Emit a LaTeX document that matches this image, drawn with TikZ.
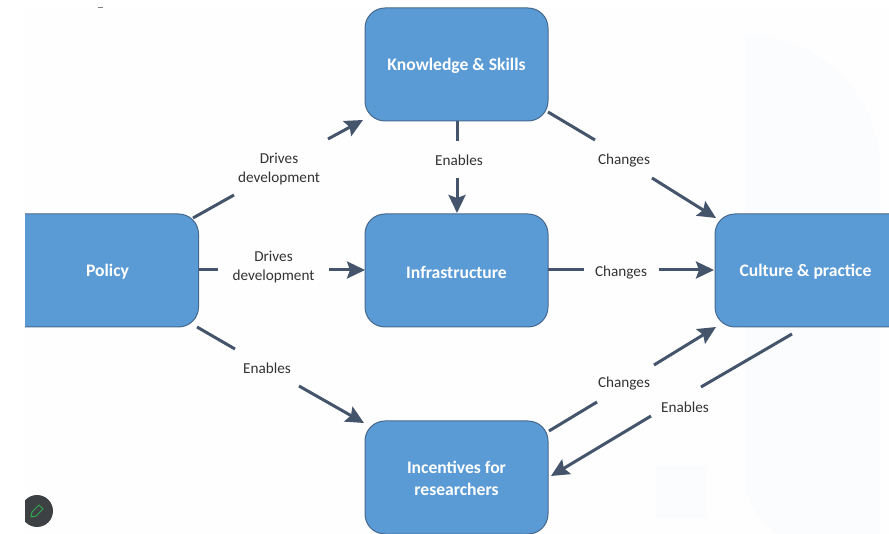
\documentclass[tikz,border=0pt]{standalone}
\usepackage{fontspec}
\setmainfont{Carlito}
\usetikzlibrary{arrows.meta}
\definecolor{boxfill}{HTML}{5B9BD5}
\definecolor{boxline}{HTML}{45688C}
\definecolor{arrowc}{HTML}{44546A}
\definecolor{labelc}{HTML}{333333}
\definecolor{panel}{HTML}{FEFEFF}
\definecolor{ghost}{HTML}{FBFCFE}
\definecolor{badge}{HTML}{3E4144}
\definecolor{pencil}{HTML}{2FA84F}
\tikzset{
  x=1pt,y=-1pt,
  bx/.style={draw=boxline,line width=1pt,fill=boxfill,rounded corners=20pt,minimum width=183pt,minimum height=113pt,inner sep=0pt,
    text=white,align=center,font=\fontsize{17.6}{22}\selectfont\bfseries},
  btxt/.style={text=white,inner sep=0pt,font=\fontsize{17.6}{22}\selectfont\bfseries},
  lbl/.style={text=labelc,align=center,inner sep=0pt,font=\fontsize{15.2}{19}\selectfont},
  seg/.style={draw=arrowc,line width=3pt},
  arr/.style={seg,-{Stealth[length=18pt,width=17pt,inset=3pt]}},
}
\begin{document}
\begin{tikzpicture}
\useasboundingbox (0,0) rectangle (889,534);
\fill[white] (0,0) rectangle (889,534);
\fill[panel] (25,8) rectangle (889,534);
% faint background shapes
\fill[ghost] (745,35) .. controls (820,35) and (880,95) .. (880,170) -- (880,534) -- (778,534) .. controls (757,520) and (745,500) .. (745,475) -- cycle;
\fill[ghost] (656,466) rectangle (707,518);
\draw[gray,line width=.8pt] (98,7) -- (103,7);
% boxes
\begin{scope}
\clip (25,0) rectangle (889,534);
\node[bx] (know) at (456.5,64.5) {};
\node[bx] (infra) at (456.5,270.5) {};
\node[bx] (inc) at (456.5,477.5) {};
\node[bx,minimum width=220pt,anchor=east] (policy) at (199,270.5) {};
\node[bx,minimum width=220pt,anchor=west] (cult) at (714.5,270.5) {};
\end{scope}
\node[btxt] (knowt) at (456.5,66) {Knowledge \& Skills};
\node[btxt] (infrat) at (456.5,272) {Infrastructure};
\node[btxt,align=center] (inct) at (456.5,478) {Incentives for\\researchers};
\node[btxt] (policyt) at (107.5,272) {Policy};
\node[btxt] (cultt) at (805.5,272) {Culture \& practice};
% labels
\node[lbl] (l1) at (279,169) {Drives\\development};
\node[lbl] (l2) at (273.5,267) {Drives\\development};
\node[lbl] (l3) at (267,368) {Enables};
\node[lbl] (l4) at (459,160.5) {Enables};
\node[lbl] (l5) at (624,161) {Changes};
\node[lbl] (l6) at (621,272.5) {Changes};
\node[lbl] (l7) at (624,384) {Changes};
\node[lbl] (l8) at (685,407) {Enables};
% connector ends
\coordinate (a1) at (193,218); \coordinate (a2) at (234,195);
\coordinate (a3) at (328,139); \coordinate (a4) at (363,120);
\coordinate (b1) at (199,270); \coordinate (b2) at (218,270);
\coordinate (b3) at (329,270); \coordinate (b4) at (365,270);
\coordinate (c1) at (197,327); \coordinate (c2) at (235,349);
\coordinate (c3) at (299,386); \coordinate (c4) at (364,423);
\coordinate (d1) at (457,121); \coordinate (d2) at (457,141);
\coordinate (d3) at (457,178); \coordinate (d4) at (457,213);
\coordinate (e1) at (548,112); \coordinate (e2) at (595,140);
\coordinate (e3) at (652,178); \coordinate (e4) at (716,218);
\coordinate (f1) at (548,270); \coordinate (f2) at (584,270);
\coordinate (f3) at (659,270); \coordinate (f4) at (714,270);
\coordinate (g1) at (549,431); \coordinate (g2) at (597,402);
\coordinate (g3) at (654,365); \coordinate (g4) at (716,327);
\coordinate (h1) at (792,334); \coordinate (h2) at (701,387);
\coordinate (h3) at (651,416); \coordinate (h4) at (551,476);
% connectors
\draw[seg] (a1) -- (a2); \draw[arr] (a3) -- (a4);
\draw[seg] (b1) -- (b2); \draw[arr] (b3) -- (b4);
\draw[seg] (c1) -- (c2); \draw[arr] (c3) -- (c4);
\draw[seg] (d1) -- (d2); \draw[arr] (d3) -- (d4);
\draw[seg] (e1) -- (e2); \draw[arr] (e3) -- (e4);
\draw[seg] (f1) -- (f2); \draw[arr] (f3) -- (f4);
\draw[seg] (g1) -- (g2); \draw[arr] (g3) -- (g4);
\draw[seg] (h1) -- (h2); \draw[arr] (h3) -- (h4);
% badge
\begin{scope}
\clip (25,480) rectangle (70,534);
\fill[badge] (37,511) circle (16);
\end{scope}
\draw[pencil,line width=1pt,line join=round] (31,517) -- (32,512) -- (39,505) -- (43,509) -- (36,516) -- cycle;
\end{tikzpicture}
\end{document}
